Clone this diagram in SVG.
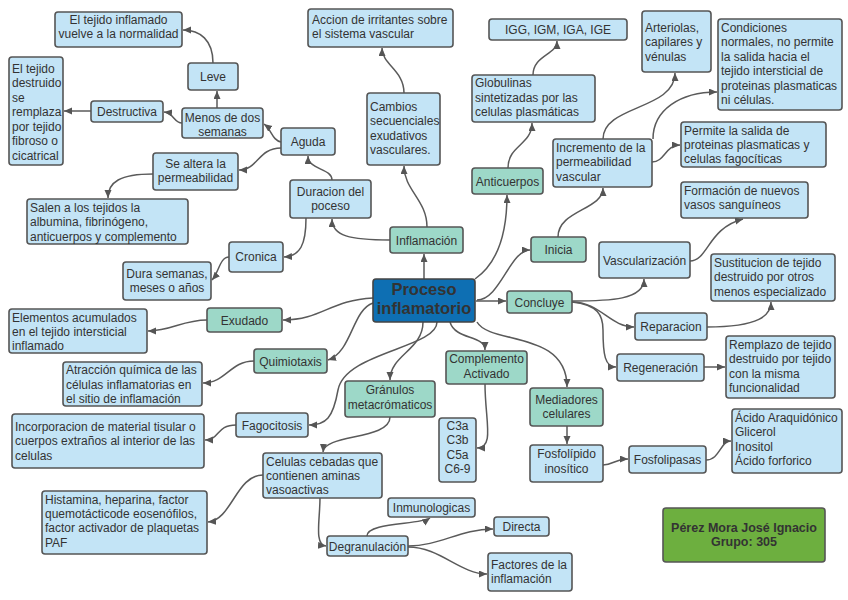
<svg xmlns="http://www.w3.org/2000/svg" width="848" height="600" viewBox="0 0 848 600">
<defs>
<marker id="ah" markerUnits="userSpaceOnUse" markerWidth="9" markerHeight="8" refX="8" refY="3.5" orient="auto">
<path d="M0,0 L8,3.5 L0,7 z" fill="#555"/>
</marker>
<style>
rect{stroke:#555;stroke-width:1.6}
.b{fill:#c3e4f6}
.g{fill:#9dd8c8}
.m{fill:#0e6fb3;stroke:#444}
.v{fill:#6daf3f}
text{font-family:"Liberation Sans",Arial,sans-serif;font-size:12px;fill:#333}
.c{text-anchor:middle}
.t{font-weight:bold;font-size:16.5px}
.p{font-weight:bold;font-size:12.5px}
#edges path{fill:none;stroke:#5a5a5a;stroke-width:1.5;marker-end:url(#ah)}
</style>
</defs>
<rect width="848" height="600" fill="#fff" style="stroke:none"/>
<g id="edges">
<path d="M424,279 L424,254"/>
<path d="M390,240 C350,240 332,236 332,219"/>
<path d="M427,227 C427,200 404,190 404,166"/>
<path d="M404,93 C404,70 382,65 382,48"/>
<path d="M332,180 C332,168 308,170 308,156"/>
<path d="M306,218 C306,245 300,256 284,257"/>
<path d="M281,142 C272,140 272,130 264,124"/>
<path d="M281,148 C258,148 258,170 239,170"/>
<path d="M217,108 C217,100 217,96 217,91"/>
<path d="M213,63 C213,40 200,30 183,30"/>
<path d="M182,123 C174,123 174,113 164,112"/>
<path d="M91,111 L64,111"/>
<path d="M153,174 C120,174 108,182 108,198"/>
<path d="M229,257 C220,257 219,272 212,280"/>
<path d="M373,298 C330,300 322,320 283,320"/>
<path d="M207,320 C182,320 172,331 148,331"/>
<path d="M373,303 C352,310 352,352 328,360"/>
<path d="M254,361 C230,361 226,383 203,383"/>
<path d="M437,322 C437,348 345,352 338,390 C333,418 326,425 309,425"/>
<path d="M236,425 C216,425 220,440 205,440"/>
<path d="M423,322 C423,350 390,355 390,380"/>
<path d="M390,417 C390,440 324,434 323,452"/>
<path d="M263,475 C236,475 232,520 208,522"/>
<path d="M320,498 C320,520 314,545 326,546"/>
<path d="M367,536 C367,522 420,525 430,518"/>
<path d="M408,546 C440,546 460,529 493,529"/>
<path d="M408,547 C440,547 460,574 487,574"/>
<path d="M450,322 C455,340 485,335 485,350"/>
<path d="M485,384 C485,420 495,448 477,448"/>
<path d="M477,322 C490,345 567,330 567,387"/>
<path d="M567,426 L567,444"/>
<path d="M603,465 C613,465 615,459 628,459"/>
<path d="M706,460 C720,460 720,441 731,441"/>
<path d="M475,279 C495,265 507,240 507,195"/>
<path d="M508,168 C508,145 532,145 532,123"/>
<path d="M533,75 C533,55 557,55 557,41"/>
<path d="M477,300 C500,300 510,250 530,250"/>
<path d="M476,301 L506,301"/>
<path d="M558,237 C558,210 603,210 603,188"/>
<path d="M603,139 C603,105 675,110 675,73"/>
<path d="M653,139 C653,110 680,92 717,92"/>
<path d="M652,162 C665,162 665,145 680,145"/>
<path d="M572,301 C610,301 644,300 644,279"/>
<path d="M690,261 C708,261 708,228 743,219"/>
<path d="M572,302 C600,302 610,327 634,327"/>
<path d="M572,302 C598,305 603,315 603,330 C603,355 605,367 616,367"/>
<path d="M707,327 C760,327 771,315 771,302"/>
<path d="M704,367 L725,367"/>
</g>
<g id="n-proceso"><rect class="m" x="373" y="279" width="102" height="43" rx="3"/><text class="c t" x="424" y="295">Proceso</text><text class="c t" x="424" y="314">inflamatorio</text></g>
<g id="n-inflamado"><rect class="b" x="55" y="12" width="127" height="35" rx="3"/><text class="c" x="118.5" y="24">El tejido inflamado</text><text class="c" x="118.5" y="38">vuelve a la normalidad</text></g>
<g id="n-leve"><rect class="b" x="188" y="63" width="50" height="27" rx="3"/><text class="c" x="213" y="81">Leve</text></g>
<g id="n-destruido"><rect class="b" x="9" y="57" width="54" height="108" rx="3"/><text x="12" y="72.5">El tejido</text><text x="12" y="87">destruido</text><text x="12" y="101.5">se</text><text x="12" y="116">remplaza</text><text x="12" y="130.5">por tejido</text><text x="12" y="145">fibroso o</text><text x="12" y="159.5">cicatrical</text></g>
<g id="n-destructiva"><rect class="b" x="91" y="101" width="72" height="21" rx="3"/><text class="c" x="127" y="116">Destructiva</text></g>
<g id="n-menos"><rect class="b" x="182" y="108" width="81" height="30" rx="3"/><text class="c" x="222.5" y="121.5">Menos de dos</text><text class="c" x="222.5" y="135.5">semanas</text></g>
<g id="n-altera"><rect class="b" x="153" y="153" width="85" height="37" rx="3"/><text class="c" x="195.5" y="167.5">Se altera la</text><text class="c" x="195.5" y="181.5">permeabilidad</text></g>
<g id="n-salen"><rect class="b" x="27" y="199" width="161" height="45" rx="3"/><text x="30" y="211.5">Salen a los tejidos la</text><text x="30" y="226">albumina, fibrinógeno,</text><text x="30" y="240.5">anticuerpos y complemento</text></g>
<g id="n-accion"><rect class="b" x="308" y="9" width="145" height="38" rx="3"/><text x="312" y="23.5">Accion de irritantes sobre</text><text x="312" y="38">el sistema vascular</text></g>
<g id="n-igg"><rect class="b" x="489" y="19" width="138" height="21" rx="3"/><text class="c" x="558" y="34">IGG, IGM, IGA, IGE</text></g>
<g id="n-globulinas"><rect class="b" x="472" y="75" width="123" height="47" rx="3"/><text x="475" y="86.5">Globulinas</text><text x="475" y="101.5">sintetizadas por las</text><text x="475" y="116">celulas plasmáticas</text></g>
<g id="n-cambios"><rect class="b" x="367" y="93" width="73" height="72" rx="3"/><text x="370" y="110.5">Cambios</text><text x="370" y="125">secuenciales</text><text x="370" y="139.5">exudativos</text><text x="370" y="154">vasculares.</text></g>
<g id="n-aguda"><rect class="b" x="281" y="128" width="54" height="27" rx="3"/><text class="c" x="308" y="146">Aguda</text></g>
<g id="n-duracion"><rect class="b" x="290" y="180" width="81" height="38" rx="3"/><text class="c" x="330.5" y="195.5">Duracion del</text><text class="c" x="330.5" y="209.5">poceso</text></g>
<g id="n-anticuerpos"><rect class="g" x="472" y="168" width="71" height="26" rx="3"/><text class="c" x="507.5" y="185.5">Anticuerpos</text></g>
<g id="n-inflamacion"><rect class="g" x="390" y="227" width="73" height="26" rx="3"/><text class="c" x="426.5" y="244.5">Inflamación</text></g>
<g id="n-incremento"><rect class="b" x="553" y="139" width="99" height="48" rx="3"/><text x="556" y="151.5">Incremento de la</text><text x="556" y="166">permeabilidad</text><text x="556" y="180.5">vascular</text></g>
<g id="n-arteriolas"><rect class="b" x="642" y="11" width="69" height="61" rx="3"/><text x="645" y="31.5">Arteriolas,</text><text x="645" y="46">capilares y</text><text x="645" y="60.5">vénulas</text></g>
<g id="n-condiciones"><rect class="b" x="718" y="19" width="124" height="91" rx="3"/><text x="721" y="31.5">Condiciones</text><text x="721" y="46">normales, no permite</text><text x="721" y="60.5">la salida hacia el</text><text x="721" y="75">tejido intersticial de</text><text x="721" y="89.5">proteinas plasmaticas</text><text x="721" y="104">ni células.</text></g>
<g id="n-permite"><rect class="b" x="681" y="122" width="145" height="45" rx="3"/><text x="684" y="134.5">Permite la salida de</text><text x="684" y="149">proteinas plasmaticas y</text><text x="684" y="163">celulas fagocíticas</text></g>
<g id="n-formacion"><rect class="b" x="681" y="182" width="127" height="36" rx="3"/><text x="684" y="194.5">Formación de nuevos</text><text x="684" y="209">vasos sanguíneos</text></g>
<g id="n-inicia"><rect class="g" x="531" y="237" width="55" height="25" rx="3"/><text class="c" x="558.5" y="254">Inicia</text></g>
<g id="n-vascularizacion"><rect class="b" x="599" y="242" width="91" height="36" rx="3"/><text class="c" x="644.5" y="264.5">Vascularización</text></g>
<g id="n-concluye"><rect class="g" x="507" y="291" width="65" height="22" rx="3"/><text class="c" x="539.5" y="306.5">Concluye</text></g>
<g id="n-sustitucion"><rect class="b" x="711" y="254" width="124" height="47" rx="3"/><text x="714" y="266.5">Sustitucion de tejido</text><text x="714" y="281">destruido por otros</text><text x="714" y="295.5">menos especializado</text></g>
<g id="n-reparacion"><rect class="b" x="635" y="313" width="72" height="27" rx="3"/><text class="c" x="671" y="331">Reparacion</text></g>
<g id="n-remplazo"><rect class="b" x="726" y="336" width="109" height="62" rx="3"/><text x="729" y="348.5">Remplazo de tejido</text><text x="729" y="363">destruido por tejido</text><text x="729" y="377.5">con la misma</text><text x="729" y="392">funcionalidad</text></g>
<g id="n-regeneracion"><rect class="b" x="617" y="354" width="87" height="27" rx="3"/><text class="c" x="660.5" y="372">Regeneración</text></g>
<g id="n-mediadores"><rect class="g" x="530" y="388" width="73" height="38" rx="3"/><text class="c" x="566.5" y="403.5">Mediadores</text><text class="c" x="566.5" y="418">celulares</text></g>
<g id="n-fosfolipido"><rect class="b" x="530" y="445" width="73" height="37" rx="3"/><text class="c" x="566.5" y="457.5">Fosfolípido</text><text class="c" x="566.5" y="473">inosítico</text></g>
<g id="n-fosfolipasas"><rect class="b" x="629" y="446" width="77" height="27" rx="3"/><text class="c" x="667.5" y="464">Fosfolipasas</text></g>
<g id="n-acido"><rect class="b" x="732" y="409" width="110" height="64" rx="3"/><text x="735" y="421.5">Ácido Araquidónico</text><text x="735" y="436">Glicerol</text><text x="735" y="450.5">Inositol</text><text x="735" y="465">Ácido forforico</text></g>
<g id="n-autor"><rect class="v" x="663" y="508" width="162" height="54" rx="3"/><text class="c p" x="744" y="531.5">Pérez Mora José Ignacio</text><text class="c p" x="744" y="545.5">Grupo: 305</text></g>
<g id="n-cronica"><rect class="b" x="229" y="242" width="54" height="30" rx="3"/><text class="c" x="256" y="261">Cronica</text></g>
<g id="n-dura"><rect class="b" x="123" y="262" width="88" height="38" rx="3"/><text class="c" x="167" y="277.5">Dura semanas,</text><text class="c" x="167" y="291.5">meses o años</text></g>
<g id="n-exudado"><rect class="g" x="207" y="308" width="75" height="24" rx="3"/><text class="c" x="244.5" y="324.5">Exudado</text></g>
<g id="n-elementos"><rect class="b" x="9" y="309" width="138" height="44" rx="3"/><text x="12" y="321.5">Elementos acumulados</text><text x="12" y="335.5">en el tejido intersticial</text><text x="12" y="350">inflamado</text></g>
<g id="n-quimiotaxis"><rect class="g" x="254" y="349" width="73" height="24" rx="3"/><text class="c" x="290.5" y="365.5">Quimiotaxis</text></g>
<g id="n-atraccion"><rect class="b" x="63" y="362" width="139" height="44" rx="3"/><text x="66" y="373.5">Atracción química de las</text><text x="66" y="388.5">células inflamatorias en</text><text x="66" y="402.5">el sitio de inflamación</text></g>
<g id="n-fagocitosis"><rect class="b" x="236" y="413" width="72" height="24" rx="3"/><text class="c" x="272" y="429.5">Fagocitosis</text></g>
<g id="n-incorporacion"><rect class="b" x="12" y="414" width="192" height="54" rx="3"/><text x="15" y="430.5">Incorporacion de material tisular o</text><text x="15" y="445">cuerpos extraños al interior de las</text><text x="15" y="459.5">celulas</text></g>
<g id="n-granulos"><rect class="g" x="345" y="381" width="90" height="36" rx="3"/><text class="c" x="390" y="393.5">Gránulos</text><text class="c" x="390" y="408.5">metacrómaticos</text></g>
<g id="n-complemento"><rect class="g" x="446" y="351" width="81" height="33" rx="3"/><text class="c" x="486.5" y="362.5">Complemento</text><text class="c" x="486.5" y="377.5">Activado</text></g>
<g id="n-c3a"><rect class="b" x="439" y="418" width="37" height="64" rx="3"/><text class="c" x="457.5" y="429.5">C3a</text><text class="c" x="457.5" y="444">C3b</text><text class="c" x="457.5" y="458.5">C5a</text><text class="c" x="457.5" y="473">C6-9</text></g>
<g id="n-cebadas"><rect class="b" x="263" y="453" width="119" height="45" rx="3"/><text x="266" y="465.5">Celulas cebadas que</text><text x="266" y="479.5">contienen aminas</text><text x="266" y="494">vasoactivas</text></g>
<g id="n-inmunologicas"><rect class="b" x="388" y="498" width="87" height="19" rx="3"/><text class="c" x="431.5" y="512">Inmunologicas</text></g>
<g id="n-directa"><rect class="b" x="494" y="517" width="55" height="19" rx="3"/><text class="c" x="521.5" y="531">Directa</text></g>
<g id="n-degranulacion"><rect class="b" x="327" y="536" width="81" height="20" rx="3"/><text class="c" x="367.5" y="550.5">Degranulación</text></g>
<g id="n-factores"><rect class="b" x="488" y="553" width="84" height="38" rx="3"/><text x="491" y="568.5">Factores de la</text><text x="491" y="582.5">inflamación</text></g>
<g id="n-histamina"><rect class="b" x="42" y="491" width="165" height="63" rx="3"/><text x="45" y="503.5">Histamina, heparina, factor</text><text x="45" y="517.5">quemotácticode eosenófilos,</text><text x="45" y="532">factor activador de plaquetas</text><text x="45" y="546.5">PAF</text></g>
</svg>
